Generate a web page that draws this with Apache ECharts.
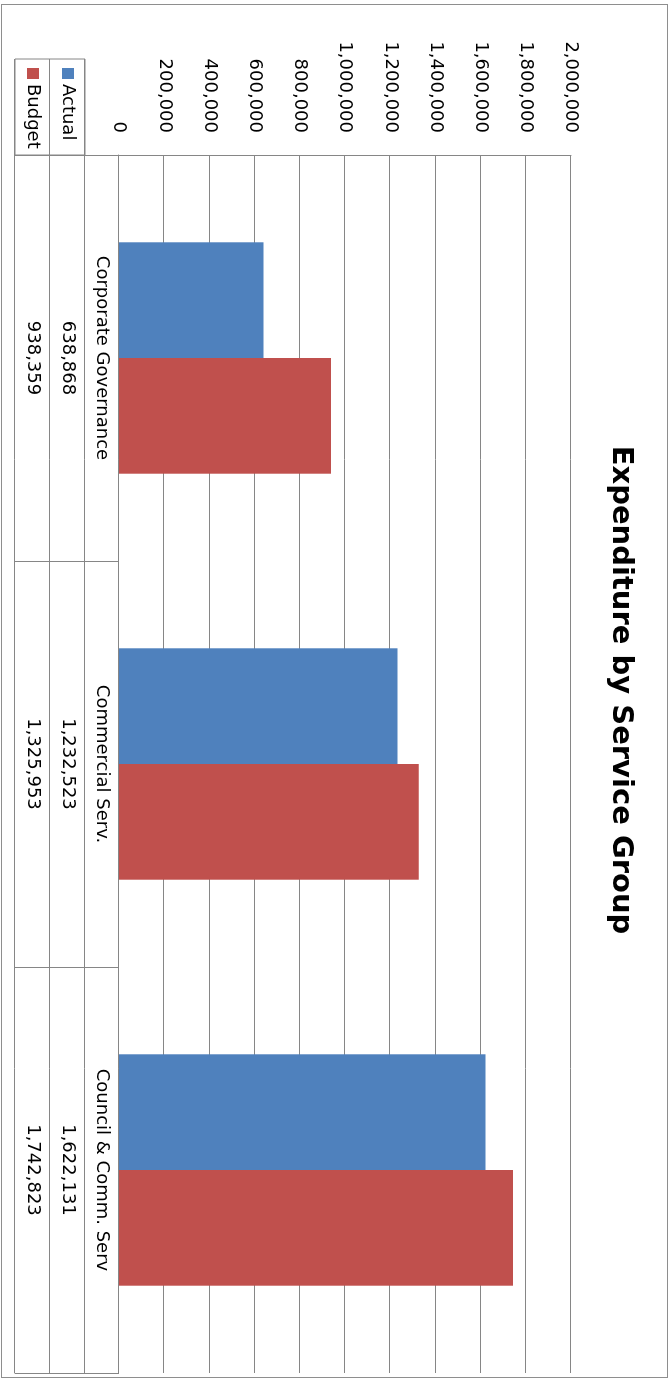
<!DOCTYPE html>
<html><head><meta charset="utf-8">
<script src="https://cdn.jsdelivr.net/npm/echarts@6/dist/echarts.min.js"></script>
<style>
html,body{margin:0;padding:0;background:#fff;width:669px;height:1380px;overflow:hidden}
#wrap{position:absolute;left:0;top:0;width:1380px;height:669px;transform-origin:0 0;transform:translate(669px,0) rotate(90deg);}
#chart{position:absolute;left:0;top:0;width:1380px;height:669px}
#frame{position:absolute;left:4px;top:1px;width:1374px;height:667px;border:1.5px solid #8e8e8e;box-sizing:border-box;pointer-events:none}
</style></head>
<body><div id="wrap"><div id="chart"></div><div id="frame"></div></div>
<script>
const categories = ['Corporate Governance', 'Commercial Serv.', 'Council & Comm. Serv'];
const seriesNames = ['Actual', 'Budget'];
const actual = [638868, 1232523, 1622131];
const budget = [938359, 1325953, 1742823];
const valueMin = 0, valueMax = 2000000, valueInterval = 200000;
const titleText = 'Expenditure by Service Group';

const fmt = v => Number(v).toLocaleString('en-US');
const gray = '#868686';
const font = 'DejaVu Sans';
const fs = 18;

function tableAxis(offset, labels, tickLen) {
  return {
    type: 'category', gridIndex: 0, position: 'bottom', offset: offset, data: categories,
    axisLine: { show: true, lineStyle: { color: gray, width: 1 } },
    axisTick: { show: tickLen > 0, interval: 0, length: tickLen, lineStyle: { color: gray } },
    axisLabel: { show: !!labels, interval: 0, margin: 8, color: '#000', fontFamily: font, fontSize: fs,
      formatter: (v, i) => labels ? labels[i] : '' },
    splitLine: { show: false }
  };
}

const chart = echarts.init(document.getElementById('chart'), null, { renderer: 'canvas' });
chart.setOption({
  animation: false,
  backgroundColor: '#fff',
  color: ['#4F81BD', '#C0504D'],
  title: { text: titleText, left: 'center', top: 29,
    textStyle: { fontFamily: font, fontWeight: 'bold', fontSize: 29, color: '#000' } },
  legend: { orient: 'vertical', left: 68, top: 592, itemWidth: 11, itemHeight: 12, itemGap: 17,
    icon: 'rect', padding: 0, data: seriesNames,
    textStyle: { fontFamily: font, fontSize: fs, color: '#000' } },
  grid: [
    { left: 155, right: 7, top: 98, bottom: 119 },
    { left: 59, top: 584, width: 96, height: 70, show: true, borderColor: gray, borderWidth: 1 }
  ],
  xAxis: [
    tableAxis(0, categories, 34),
    tableAxis(34, actual.map(fmt), 35),
    tableAxis(69, budget.map(fmt), 35),
    tableAxis(104, null, 0),
    { type: 'value', gridIndex: 1, show: false }
  ],
  yAxis: [
    { type: 'value', gridIndex: 0, min: valueMin, max: valueMax, interval: valueInterval,
      axisLine: { show: true, lineStyle: { color: gray } }, axisTick: { show: false },
      axisLabel: { margin: 22, color: '#000', fontFamily: font, fontSize: fs, formatter: v => fmt(v) },
      splitLine: { show: true, lineStyle: { color: gray, width: 1 } } },
    { type: 'category', gridIndex: 1, data: seriesNames, inverse: true,
      axisLine: { show: false }, axisTick: { show: false }, axisLabel: { show: false },
      splitLine: { show: true, interval: 0, lineStyle: { color: gray } } }
  ],
  series: [
    { name: seriesNames[0], type: 'bar', xAxisIndex: 0, yAxisIndex: 0, data: actual,
      barGap: 0, barCategoryGap: '43%' },
    { name: seriesNames[1], type: 'bar', xAxisIndex: 0, yAxisIndex: 0, data: budget,
      barGap: 0, barCategoryGap: '43%' }
  ]
});
</script></body></html>
